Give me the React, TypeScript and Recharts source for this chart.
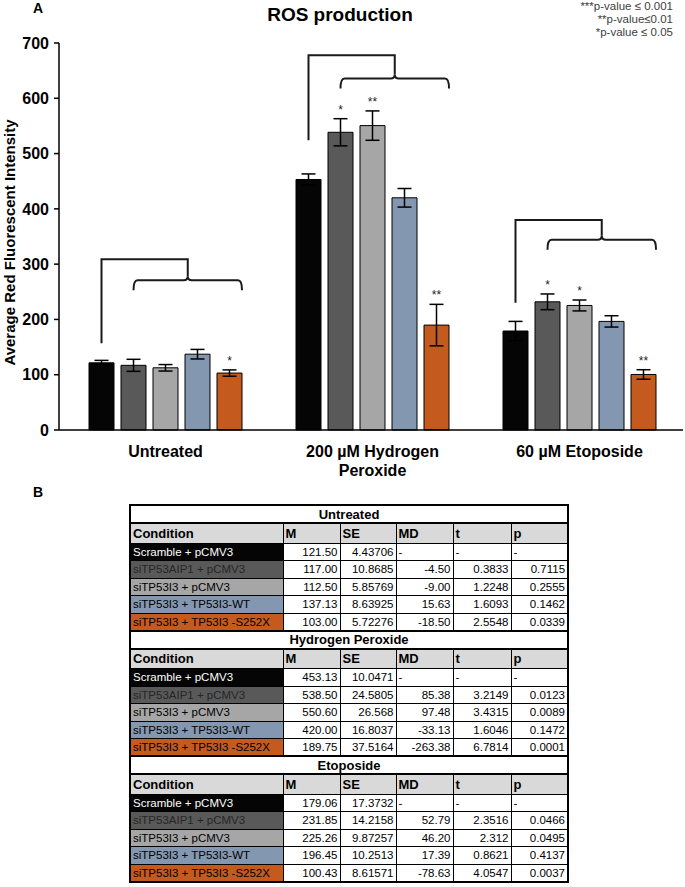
import { Bar, BarChart, ErrorBar, LabelList, XAxis, YAxis } from "recharts";

// ROS production, mean red fluorescence per condition (+/- SE), with the stats table below.

const FONT = "'Liberation Sans', Arial, sans-serif";

const categories = ["Untreated", "200 µM Hydrogen Peroxide", "60 µM Etoposide"];
const conditions = [
  "Scramble + pCMV3",
  "siTP53AIP1 + pCMV3",
  "siTP53I3 + pCMV3",
  "siTP53I3 + TP53I3-WT",
  "siTP53I3 + TP53I3 -S252X",
];
const colors = ["#050505", "#595959", "#a6a6a6", "#8497b0", "#c55a1e"];
const condText = ["#ffffff", "#262626", "#000000", "#000000", "#000000"];

const untreatedM = [121.5, 117.0, 112.5, 137.13, 103.0];
const untreatedSE = [4.43706, 10.8685, 5.85769, 8.63925, 5.72276];
const untreatedMD = ["-", "-4.50", "-9.00", "15.63", "-18.50"];
const untreatedT = ["-", "0.3833", "1.2248", "1.6093", "2.5548"];
const untreatedP = ["-", "0.7115", "0.2555", "0.1462", "0.0339"];
const untreatedStars = ["", "", "", "", "*"];

const peroxideM = [453.13, 538.5, 550.6, 420.0, 189.75];
const peroxideSE = [10.0471, 24.5805, 26.568, 16.8037, 37.5164];
const peroxideMD = ["-", "85.38", "97.48", "-33.13", "-263.38"];
const peroxideT = ["-", "3.2149", "3.4315", "1.6046", "6.7814"];
const peroxideP = ["-", "0.0123", "0.0089", "0.1472", "0.0001"];
const peroxideStars = ["", "*", "**", "", "**"];

const etoposideM = [179.06, 231.85, 225.26, 196.45, 100.43];
const etoposideSE = [17.3732, 14.2158, 9.87257, 10.2513, 8.61571];
const etoposideMD = ["-", "52.79", "46.20", "17.39", "-78.63"];
const etoposideT = ["-", "2.3516", "2.312", "0.8621", "4.0547"];
const etoposideP = ["-", "0.0466", "0.0495", "0.4137", "0.0037"];
const etoposideStars = ["", "*", "*", "", "**"];

const yTicks = [0, 100, 200, 300, 400, 500, 600, 700];

// bracket heights (data units) per treatment group
const bracketTop = [309, 678, 380];
const bracketBrace = [271, 636, 344];
const bracketFoot = [157, 524, 230];

const means = [untreatedM, peroxideM, etoposideM];
const ses = [untreatedSE, peroxideSE, etoposideSE];
const stars = [untreatedStars, peroxideStars, etoposideStars];
const sections = [
  { title: "Untreated", m: untreatedM, se: untreatedSE, md: untreatedMD, t: untreatedT, p: untreatedP },
  { title: "Hydrogen Peroxide", m: peroxideM, se: peroxideSE, md: peroxideMD, t: peroxideT, p: peroxideP },
  { title: "Etoposide", m: etoposideM, se: etoposideSE, md: etoposideMD, t: etoposideT, p: etoposideP },
];

const data = categories.map((name, i) => {
  const row: Record<string, string | number> = { name };
  conditions.forEach((_, j) => {
    row[`m${j}`] = means[i][j];
    row[`e${j}`] = ses[i][j];
  });
  return row;
});

const CHART_W = 685;
const CHART_H = 480;
const Y_AXIS_W = 59;
const PAD_L = 3;
const MARGIN_R = 2;
const BAR_SIZE = 25;
const BAR_GAP = 7;
const BAND = (CHART_W - Y_AXIS_W - PAD_L - MARGIN_R) / categories.length;
const LINE = "#1a1a1a";

function catIndex(p: any, x: number) {
  if (p.index != null) return p.index;
  return Math.floor((x - Y_AXIS_W - PAD_L) / BAND);
}

// significance stars, placed just above the error bar cap
const starLabel = (j: number) => (p: any) => {
  const vb = p.viewBox || p;
  const { x, y, width, height } = vb;
  const value = Number(p.value);
  const i = catIndex(p, x);
  const s = stars[i] && stars[i][j];
  if (!s || !value) return null;
  const perUnit = Math.abs(height) / value;
  const top = y - ses[i][j] * perUnit;
  return (
    <text x={x + width / 2} y={top - 5} textAnchor="middle" fontSize={12} fill="#222" fontFamily={FONT}>
      {s}
    </text>
  );
};

// comparison bracket, hung off the first (black) bar of each group
const bracketLabel = (p: any) => {
  const vb = p.viewBox || p;
  const { x, y, width, height } = vb;
  const value = Number(p.value);
  const i = catIndex(p, x);
  if (!value || bracketTop[i] == null) return null;
  const perUnit = Math.abs(height) / value;
  const base = y + Math.abs(height);
  const py = (v: number) => base - v * perUnit;
  const step = BAR_SIZE + BAR_GAP;
  const left = x + width / 2;
  const b1 = x + step + width / 2;
  const b2 = x + 4 * step + width;
  const mid = (b1 + b2) / 2;
  const yt = py(bracketTop[i]);
  const yb = py(bracketBrace[i]);
  const yf = py(bracketFoot[i]);
  const d = 10;
  const r = 4;
  const brace =
    `M${b1},${yb + d} Q${b1},${yb} ${b1 + r},${yb} L${mid - r},${yb} Q${mid},${yb} ${mid},${yb - r} ` +
    `Q${mid},${yb} ${mid + r},${yb} L${b2 - r},${yb} Q${b2},${yb} ${b2},${yb + d}`;
  return (
    <g fill="none" stroke={LINE} strokeWidth={2}>
      <path d={`M${left},${yf} L${left},${yt} L${mid},${yt} L${mid},${yb - r}`} />
      <path d={brace} />
    </g>
  );
};

function CatTick({ x, y, payload }: any) {
  const text: string = payload.value;
  let lines = [text];
  if (text.length > 18) {
    const k = text.lastIndexOf(" ");
    lines = [text.slice(0, k), text.slice(k + 1)];
  }
  return (
    <text x={x} y={y} textAnchor="middle" fontSize={16} fontWeight="bold" fill="#000" fontFamily={FONT}>
      {lines.map((l, k) => (
        <tspan key={k} x={x} dy={k === 0 ? 27 : 19}>
          {l}
        </tspan>
      ))}
    </text>
  );
}

const YLabel = (p: any) => {
  const vb = p.viewBox || {};
  const cx = 9;
  const cy = (vb.y ?? 43) + (vb.height ?? 387) / 2 + 6;
  return (
    <text
      x={cx}
      y={cy}
      transform={`rotate(-90 ${cx} ${cy})`}
      textAnchor="middle"
      dominantBaseline="central"
      fontSize={15}
      fontWeight="bold"
      fill="#000"
      fontFamily={FONT}
    >
      Average Red Fluorescent Intensity
    </text>
  );
};

const cell = { border: "1px solid #000", padding: "0 2px", whiteSpace: "nowrap" as const, overflow: "hidden" };

function StatsTable() {
  return (
    <table
      style={{
        borderCollapse: "collapse",
        tableLayout: "fixed",
        width: 438,
        border: "2px solid #000",
        fontFamily: FONT,
        fontSize: 11.5,
        color: "#000",
      }}
    >
      <colgroup>
        <col style={{ width: 153 }} />
        <col style={{ width: 57 }} />
        <col style={{ width: 56 }} />
        <col style={{ width: 57 }} />
        <col style={{ width: 58 }} />
        <col style={{ width: 57 }} />
      </colgroup>
      <tbody>
        {sections.map((sec) => [
          <tr key={sec.title + "t"} style={{ height: 18 }}>
            <td colSpan={6} style={{ ...cell, textAlign: "center", fontWeight: "bold", fontSize: 13, borderTop: "2px solid #000" }}>
              {sec.title}
            </td>
          </tr>,
          <tr key={sec.title + "h"} style={{ height: 20, background: "#d9d9d9", fontWeight: "bold", fontSize: 13 }}>
            {["Condition", "M", "SE", "MD", "t", "p"].map((h) => (
              <td key={h} style={{ ...cell, borderTop: "2px solid #000" }}>
                {h}
              </td>
            ))}
          </tr>,
          ...conditions.map((c, j) => (
            <tr key={sec.title + j} style={{ height: 17.5 }}>
              <td style={{ ...cell, background: colors[j], color: condText[j] }}>{c}</td>
              <td style={{ ...cell, textAlign: "right" }}>{sec.m[j].toFixed(2)}</td>
              <td style={{ ...cell, textAlign: "right" }}>{String(sec.se[j])}</td>
              {[sec.md[j], sec.t[j], sec.p[j]].map((v, k) => (
                <td key={k} style={{ ...cell, textAlign: v === "-" ? "left" : "right" }}>
                  {v}
                </td>
              ))}
            </tr>
          )),
        ])}
      </tbody>
    </table>
  );
}

export default function App() {
  return (
    <div style={{ position: "relative", width: 685, height: 887, background: "#fff", fontFamily: FONT }}>
      <style>{"body{margin:0}"}</style>
      <div style={{ position: "absolute", left: 33, top: 0, fontSize: 14, fontWeight: "bold" }}>A</div>
      <div style={{ position: "absolute", left: 240, width: 200, top: 4, textAlign: "center", fontSize: 19, fontWeight: "bold" }}>
        ROS production
      </div>
      <div
        style={{
          position: "absolute",
          right: 12,
          top: 0,
          textAlign: "right",
          fontSize: 11.5,
          lineHeight: "13px",
          color: "#404040",
        }}
      >
        <div>***p-value ≤ 0.001</div>
        <div>**p-value≤0.01</div>
        <div>*p-value ≤ 0.05</div>
      </div>
      <div style={{ position: "absolute", left: 0, top: 0 }}>
        <BarChart
          width={CHART_W}
          height={CHART_H}
          data={data}
          margin={{ top: 43, right: MARGIN_R, left: 0, bottom: 0 }}
          barSize={BAR_SIZE}
          barGap={BAR_GAP}
        >
          <XAxis
            dataKey="name"
            height={50}
            padding={{ left: PAD_L, right: 0 }}
            tickLine={false}
            tickSize={0}
            tickMargin={0}
            interval={0}
            axisLine={{ stroke: "#000", strokeWidth: 1.5 }}
            tick={<CatTick />}
          />
          <YAxis
            domain={[0, 700]}
            ticks={yTicks}
            interval={0}
            width={Y_AXIS_W}
            tickSize={5}
            tickMargin={5}
            axisLine={{ stroke: "#000", strokeWidth: 1.5 }}
            tickLine={{ stroke: "#000", strokeWidth: 1.5 }}
            tick={{ fontSize: 16, fontWeight: "bold", fill: "#000", fontFamily: FONT }}
            label={{ content: YLabel }}
          />
          {conditions.map((c, j) => (
            <Bar key={c} dataKey={`m${j}`} name={c} fill={colors[j]} stroke="#000" strokeWidth={1} isAnimationActive={false}>
              <ErrorBar dataKey={`e${j}`} width={7} stroke="#000" strokeWidth={1.5} />
              <LabelList dataKey={`m${j}`} content={starLabel(j)} />
              {j === 0 && <LabelList dataKey="m0" content={bracketLabel} />}
            </Bar>
          ))}
        </BarChart>
      </div>
      <div style={{ position: "absolute", left: 33, top: 484, fontSize: 14, fontWeight: "bold" }}>B</div>
      <div style={{ position: "absolute", left: 129, top: 504 }}>
        <StatsTable />
      </div>
    </div>
  );
}
